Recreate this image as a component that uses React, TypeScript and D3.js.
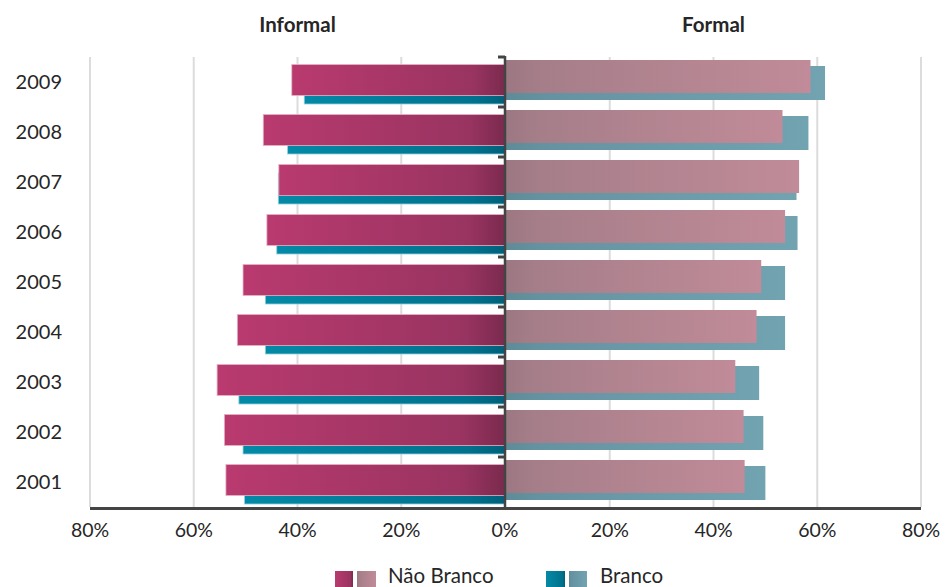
import React from "react";
import * as d3 from "d3";

const years = ["2009", "2008", "2007", "2006", "2005", "2004", "2003", "2002", "2001"];
const informalNaoBranco = [41.1, 46.6, 43.6, 45.9, 50.5, 51.6, 55.5, 54.1, 53.8];
const informalBranco = [38.7, 41.9, 43.7, 44.0, 46.2, 46.2, 51.3, 50.5, 50.2];
const formalNaoBranco = [58.7, 53.3, 56.5, 53.8, 49.2, 48.3, 44.2, 45.8, 46.0];
const formalBranco = [61.5, 58.3, 56.0, 56.2, 53.8, 53.8, 48.8, 49.6, 50.0];
const tickValues = [80, 60, 40, 20, 0, 20, 40, 60, 80];
const panelTitles = ["Informal", "Formal"];
const legendLabels = ["Não Branco", "Branco"];

const W = 945;
const H = 587;
const FONT = "Lato, 'Open Sans', sans-serif";

export default function App() {
  const xLeft = d3.scaleLinear().domain([0, 80]).range([505, 90]);
  const xRight = d3.scaleLinear().domain([0, 80]).range([506, 921]);
  const y = d3.scaleBand<string>().domain(years).range([57, 507]);
  const band = y.bandwidth();

  const gridPositions = [80, 60, 40, 20].map((v) => xLeft(v)).concat([20, 40, 60, 80].map((v) => xRight(v)));
  const tickPositions = tickValues.map((v, i) => (i < 4 ? xLeft(v) : i === 4 ? 505 : xRight(v)));
  const boundaries = years.map((yr) => y(yr) as number);

  return (
    <svg width={W} height={H} style={{ position: "absolute", left: 0, top: 0, background: "#fff" }} fontFamily={FONT}>
      <defs>
        <linearGradient id="gInfNB" x1="0" x2="1" y1="0" y2="0">
          <stop offset="0" stopColor="#b93a6f" />
          <stop offset="0.85" stopColor="#993461" />
          <stop offset="1" stopColor="#7b2a4e" />
        </linearGradient>
        <linearGradient id="gInfB" x1="0" x2="1" y1="0" y2="0">
          <stop offset="0" stopColor="#038aa6" />
          <stop offset="0.85" stopColor="#01728d" />
          <stop offset="1" stopColor="#00607a" />
        </linearGradient>
        <linearGradient id="gForNB" x1="0" x2="1" y1="0" y2="0">
          <stop offset="0" stopColor="#9c7882" />
          <stop offset="0.12" stopColor="#a57e89" />
          <stop offset="1" stopColor="#c18b99" />
        </linearGradient>
        <linearGradient id="gForB" x1="0" x2="1" y1="0" y2="0">
          <stop offset="0" stopColor="#5d8b97" />
          <stop offset="0.12" stopColor="#6592a0" />
          <stop offset="1" stopColor="#72a3b1" />
        </linearGradient>
      </defs>

      {/* vertical gridlines */}
      {gridPositions.map((gx, i) => (
        <line key={`g${i}`} x1={gx} x2={gx} y1={57} y2={507} stroke="#dcdcdc" strokeWidth={2} />
      ))}

      {/* Informal (left) bars */}
      {years.map((yr, i) => {
        const b0 = y(yr) as number;
        return (
          <g key={`inf${yr}`}>
            <rect
              x={xLeft(informalBranco[i])}
              y={b0 + 16}
              width={505 - xLeft(informalBranco[i])}
              height={31}
              fill="url(#gInfB)"
              stroke="#8fd0de"
              strokeWidth={0.8}
            />
            <rect
              x={xLeft(informalNaoBranco[i])}
              y={b0 + 7.5}
              width={505 - xLeft(informalNaoBranco[i])}
              height={31}
              fill="url(#gInfNB)"
              stroke="#e6b2c5"
              strokeWidth={0.8}
            />
          </g>
        );
      })}

      {/* Formal (right) bars */}
      {years.map((yr, i) => {
        const b0 = y(yr) as number;
        return (
          <g key={`for${yr}`}>
            <rect
              x={xRight(0)}
              y={b0 + 9}
              width={xRight(formalBranco[i]) - xRight(0)}
              height={34}
              fill="url(#gForB)"
            />
            <rect
              x={xRight(0)}
              y={b0 + 3}
              width={xRight(formalNaoBranco[i]) - xRight(0)}
              height={33}
              fill="url(#gForNB)"
            />
          </g>
        );
      })}

      {/* central axis with category ticks */}
      <line x1={505} x2={505} y1={56} y2={508} stroke="#444" strokeWidth={2.5} />
      {boundaries.map((by, i) => (
        <line key={`t${i}`} x1={498} x2={505} y1={by} y2={by} stroke="#444" strokeWidth={3} />
      ))}

      {/* bottom axis */}
      <line x1={90} x2={921} y1={508.5} y2={508.5} stroke="#444" strokeWidth={3} />

      {/* tick labels */}
      {tickValues.map((v, i) => (
        <text key={`tl${i}`} x={tickPositions[i]} y={537} textAnchor="middle" fontSize={19.5} fill="#262626">
          {`${v}%`}
        </text>
      ))}

      {/* year labels */}
      {years.map((yr) => (
        <text key={`y${yr}`} x={62} y={(y(yr) as number) + band / 2 + 7.3} textAnchor="end" fontSize={20} fill="#262626">
          {yr}
        </text>
      ))}

      {/* panel titles */}
      <text x={xLeft(40)} y={32} textAnchor="middle" fontSize={20.5} fontWeight="bold" fill="#262626">
        {panelTitles[0]}
      </text>
      <text x={xRight(40)} y={32} textAnchor="middle" fontSize={20.5} fontWeight="bold" fill="#262626">
        {panelTitles[1]}
      </text>

      {/* legend */}
      <g>
        <rect x={335} y={571} width={18} height={18} fill="url(#gInfNB)" />
        <rect x={357} y={571} width={19} height={18} fill="url(#gForNB)" />
        <text x={388} y={583} fontSize={20.5} fill="#262626">{legendLabels[0]}</text>
        <rect x={546} y={571} width={19} height={18} fill="url(#gInfB)" />
        <rect x={569} y={571} width={18} height={18} fill="url(#gForB)" />
        <text x={600} y={583} fontSize={20.5} fill="#262626">{legendLabels[1]}</text>
      </g>
    </svg>
  );
}
